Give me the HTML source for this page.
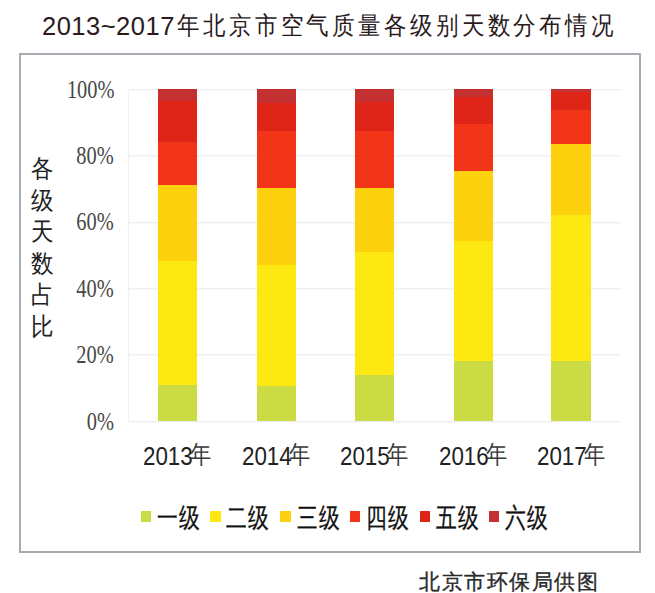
<!DOCTYPE html>
<html><head><meta charset="utf-8">
<style>
html,body{margin:0;padding:0;background:#fff;width:655px;height:593px;overflow:hidden;position:relative;}
*{box-sizing:border-box;}
.t{position:absolute;white-space:nowrap;font-family:"Liberation Sans",sans-serif;line-height:1;}
#title1{left:42px;top:14px;font-size:25.5px;color:#2a1a1c;letter-spacing:0.5px;}
#title2{left:176.5px;top:14px;font-size:24.5px;letter-spacing:3.75px;transform:scaleX(0.9);transform-origin:left top;color:#2a1a1c;}
#frame{position:absolute;left:19px;top:53px;width:622px;height:500px;border:2px solid #a8abb1;}
.grid{position:absolute;left:128px;width:493px;height:1px;background:#eeeff0;box-shadow:0 1px 0 #f8f8f9;}
#vax{position:absolute;left:128px;top:89px;width:1px;height:332px;background:#f1f1f2;}
.yl{position:absolute;right:541px;font-family:"Liberation Serif",serif;font-size:25.5px;color:#484848;line-height:1;transform:scaleX(0.8);transform-origin:right center;white-space:nowrap;}
.bar{position:absolute;width:40px;}
.seg{position:absolute;left:0;width:100%;}
.c6{background:#c53033;} .c5{background:#df2518;} .c4{background:#f23518;}
.c3{background:#fed10f;} .c2{background:#fee812;} .c1{background:#cbdb43;}
.xd{position:absolute;top:443px;font-family:"Liberation Sans",sans-serif;font-size:26px;color:#222;line-height:1;white-space:nowrap;transform:scaleX(0.86);transform-origin:left top;}
.xn{position:absolute;top:441.5px;font-family:"Liberation Sans",sans-serif;font-size:25px;color:#383838;line-height:1;white-space:nowrap;transform:scaleX(0.85);transform-origin:left top;}
#ytitle{position:absolute;left:29.5px;top:153px;width:26px;font-size:25px;line-height:31.6px;color:#222;font-family:"Liberation Sans",sans-serif;transform:scaleX(0.9);transform-origin:center top;}
.lg{position:absolute;top:511px;width:10px;height:11px;}
.lt{position:absolute;top:504.5px;font-size:27px;color:#111;font-family:"Liberation Sans",sans-serif;line-height:1;white-space:nowrap;transform:scaleX(0.77);transform-origin:left top;letter-spacing:2px;-webkit-text-stroke:0.3px #111;}
#credit{left:419px;top:570.5px;font-size:21px;letter-spacing:1.55px;color:#2a2a2a;-webkit-text-stroke:0.35px #2a2a2a;}
</style></head><body>
<div id="title1" class="t">2013~2017</div><div id="title2" class="t">年北京市空气质量各级别天数分布情况</div>
<div id="frame"></div>
<div class="grid" style="top:89px"></div>
<div class="grid" style="top:155px"></div>
<div class="grid" style="top:222px"></div>
<div class="grid" style="top:288px"></div>
<div class="grid" style="top:354px"></div>
<div class="grid" style="top:421px"></div>
<div id="vax"></div>

<div class="yl" style="top:76.5px">100%</div>
<div class="yl" style="top:143px">80%</div>
<div class="yl" style="top:209px">60%</div>
<div class="yl" style="top:275.5px">40%</div>
<div class="yl" style="top:342px">20%</div>
<div class="yl" style="top:408.5px">0%</div>

<div id="ytitle">各级天数占比</div>

<!-- bars -->
<div class="bar" style="left:158px;top:89px;width:39px;height:332px">
  <div class="seg c6" style="top:0px;height:12px"></div>
  <div class="seg c5" style="top:12px;height:41px"></div>
  <div class="seg c4" style="top:53px;height:43px"></div>
  <div class="seg c3" style="top:96px;height:76px"></div>
  <div class="seg c2" style="top:172px;height:124px"></div>
  <div class="seg c1" style="top:296px;height:36px"></div>
</div>
<div class="bar" style="left:257px;top:89px;width:39px;height:332px">
  <div class="seg c6" style="top:0px;height:14px"></div>
  <div class="seg c5" style="top:14px;height:28px"></div>
  <div class="seg c4" style="top:42px;height:57px"></div>
  <div class="seg c3" style="top:99px;height:77px"></div>
  <div class="seg c2" style="top:176px;height:121px"></div>
  <div class="seg c1" style="top:297px;height:35px"></div>
</div>
<div class="bar" style="left:355px;top:89px;width:39px;height:332px">
  <div class="seg c6" style="top:0px;height:13px"></div>
  <div class="seg c5" style="top:13px;height:29px"></div>
  <div class="seg c4" style="top:42px;height:57px"></div>
  <div class="seg c3" style="top:99px;height:64px"></div>
  <div class="seg c2" style="top:163px;height:123px"></div>
  <div class="seg c1" style="top:286px;height:46px"></div>
</div>
<div class="bar" style="left:454px;top:89px;width:39px;height:332px">
  <div class="seg c6" style="top:0px;height:8px"></div>
  <div class="seg c5" style="top:8px;height:27px"></div>
  <div class="seg c4" style="top:35px;height:47px"></div>
  <div class="seg c3" style="top:82px;height:70px"></div>
  <div class="seg c2" style="top:152px;height:120px"></div>
  <div class="seg c1" style="top:272px;height:60px"></div>
</div>
<div class="bar" style="left:551px;top:89px;width:40px;height:332px">
  <div class="seg c6" style="top:0px;height:3px"></div>
  <div class="seg c5" style="top:3px;height:18px"></div>
  <div class="seg c4" style="top:21px;height:34px"></div>
  <div class="seg c3" style="top:55px;height:71px"></div>
  <div class="seg c2" style="top:126px;height:146px"></div>
  <div class="seg c1" style="top:272px;height:60px"></div>
</div>

<div class="xd" style="left:143.1px">2013</div><div class="xn" style="left:190.3px">年</div>
<div class="xd" style="left:241.6px">2014</div><div class="xn" style="left:288.8px">年</div>
<div class="xd" style="left:340.1px">2015</div><div class="xn" style="left:387.3px">年</div>
<div class="xd" style="left:438.6px">2016</div><div class="xn" style="left:485.8px">年</div>
<div class="xd" style="left:537.1px">2017</div><div class="xn" style="left:584.3px">年</div>

<div class="lg c1" style="left:141px"></div><div class="lt" style="left:157px">一级</div>
<div class="lg c2" style="left:210px;width:11px"></div><div class="lt" style="left:226px">二级</div>
<div class="lg c3" style="left:280px;width:11px"></div><div class="lt" style="left:297px">三级</div>
<div class="lg c4" style="left:350px"></div><div class="lt" style="left:366px">四级</div>
<div class="lg c5" style="left:420px"></div><div class="lt" style="left:436px">五级</div>
<div class="lg c6" style="left:489px"></div><div class="lt" style="left:505px">六级</div>

<div id="credit" class="t">北京市环保局供图</div>
</body></html>
